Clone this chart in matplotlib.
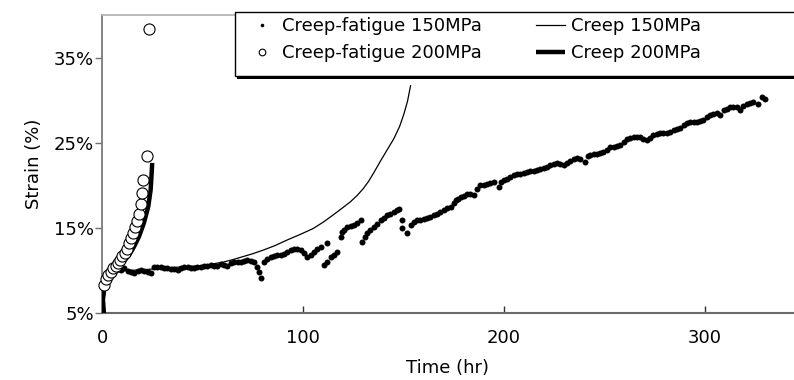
import matplotlib
matplotlib.use("Agg")
import matplotlib.pyplot as plt
from matplotlib.patches import Rectangle
from matplotlib.ticker import FixedLocator

plt.rcParams['font.family'] = ['DejaVu Sans']
plt.rcParams['font.size'] = 13

# Creep-fatigue 150MPa (dots)
cf150_t = [9.2, 10.8, 12.5, 14.2, 15.8, 17.5, 19.2, 20.8, 22.5, 24.1, 25.8, 27.4, 29.1, 30.8,
           32.4, 34.1, 35.7, 37.4, 39.0, 40.7, 42.4, 44.0, 45.7, 47.3, 49.0, 50.6, 52.3, 54.0,
           55.6, 57.3, 59.0, 60.6, 62.3, 64.0, 65.6, 67.3, 68.9, 70.5, 72.2, 73.8, 75.5, 77.2,
           78.0, 79.2, 80.5, 82.1, 83.8, 85.5, 87.2, 88.8, 90.4, 92.1, 93.8, 95.4, 97.1, 98.8,
           100.5, 102.1, 103.8, 105.4, 107.0, 108.7, 110.3, 112.0, 113.7, 115.3, 117.0,
           112.0, 118.7, 119.5, 120.3, 122.0, 123.6, 125.3, 127.0, 128.6,
           129.4, 130.6, 131.9, 133.5, 135.2, 136.9, 138.6, 140.2, 141.9, 143.5, 145.2, 146.5,
           147.7, 149.4, 149.4, 151.8, 153.5, 155.1, 156.8, 158.4, 160.1, 161.7, 163.4, 165.1,
           166.8, 168.4, 170.0, 171.7, 173.4, 175.0, 175.9, 177.1, 178.4, 180.0, 181.7, 183.3,
           185.0, 186.6, 188.3, 189.9, 191.6, 193.2, 194.9, 197.4, 198.6, 199.9, 201.6, 203.2,
           204.9, 206.5, 208.2, 209.8, 211.5, 213.2, 214.8, 216.5, 218.1, 219.8, 221.5, 223.1,
           224.8, 226.5, 228.1, 229.8, 231.5, 233.1, 234.8, 236.4, 238.0, 240.5, 241.8, 243.0,
           244.7, 246.4, 248.0, 249.6, 251.3, 253.0, 254.6, 256.3, 258.0, 259.6, 261.3, 263.0,
           264.6, 266.2, 267.9, 269.5, 271.2, 272.8, 274.5, 276.2, 277.9, 279.5, 281.2, 282.8,
           284.5, 286.2, 287.8, 289.5, 291.2, 292.8, 294.5, 296.1, 297.8, 299.4, 301.0, 302.7,
           304.3, 306.0, 307.7, 309.4, 311.0, 312.7, 314.3, 316.0, 317.7, 319.3, 321.0, 322.7,
           324.3, 326.8, 328.5, 330.1]
cf150_s = [10.05, 10.3, 10.0, 9.9, 9.75, 9.95, 10.1, 10.0, 9.85, 9.7, 10.45, 10.4, 10.45, 10.35,
           10.3, 10.2, 10.25, 10.1, 10.3, 10.45, 10.4, 10.3, 10.3, 10.4, 10.45, 10.5, 10.55, 10.65,
           10.55, 10.6, 10.75, 10.65, 10.55, 10.9, 11.05, 11.0, 11.05, 11.15, 11.25, 11.15, 11.05, 10.46,
           9.9, 9.1, 11.05, 11.4, 11.6, 11.7, 11.85, 11.9, 12.0, 12.2, 12.4, 12.5, 12.6, 12.4,
           12.1, 11.6, 11.9, 12.2, 12.5, 12.8, 10.66, 11.05, 11.6, 11.9, 12.2,
           13.2, 13.9, 14.5, 14.8, 15.1, 15.3, 15.4, 15.6, 15.9,
           13.4, 14.0, 14.4, 14.8, 15.15, 15.5, 15.9, 16.2, 16.5, 16.7, 16.9, 17.1,
           17.2, 15.9, 14.96, 14.4, 15.35, 15.7, 15.9, 16.0, 16.1, 16.2, 16.3, 16.5,
           16.7, 16.9, 17.1, 17.3, 17.5, 17.9, 18.3, 18.4, 18.6, 18.8, 19.0, 19.0,
           18.9, 19.6, 20.0, 20.1, 20.2, 20.3, 20.4, 19.85, 20.4, 20.6, 20.8, 21.0,
           21.2, 21.3, 21.4, 21.5, 21.6, 21.7, 21.7, 21.8, 21.95, 22.05, 22.2, 22.35,
           22.5, 22.6, 22.5, 22.4, 22.6, 22.85, 23.05, 23.2, 23.1, 22.8, 23.4, 23.55,
           23.65, 23.75, 23.85, 23.95, 24.2, 24.5, 24.55, 24.6, 24.7, 25.1, 25.5, 25.6,
           25.7, 25.7, 25.7, 25.5, 25.3, 25.6, 25.9, 26.0, 26.1, 26.1, 26.1, 26.3,
           26.5, 26.6, 26.8, 27.1, 27.3, 27.5, 27.5, 27.5, 27.6, 27.7, 28.0, 28.25,
           28.35, 28.45, 28.25, 28.8, 29.0, 29.2, 29.2, 29.2, 28.8, 29.3, 29.6, 29.7,
           29.8, 29.6, 30.4, 30.2]

# Creep-fatigue 200MPa (open circles)
cf200_t = [0.75, 1.9, 2.9, 4.1, 5.2, 6.6, 7.7, 8.7, 9.9, 11.0, 12.0, 13.2, 14.2, 15.2,
           16.2, 17.3, 18.2, 19.3, 19.8, 20.4, 22.2, 23.3]
cf200_s = [8.3, 9.0, 9.5, 9.9, 10.3, 10.55, 10.9, 11.3, 11.7, 12.1, 12.6, 13.2, 13.8, 14.45,
           15.1, 15.8, 16.6, 17.8, 19.1, 20.6, 23.5, 38.3]

# Creep 150MPa (thin line)
c150_t = [0.5, 2.0, 5.0, 10.0, 20.0, 30.0, 40.0, 50.0, 60.0, 65.0, 70.0, 75.0, 80.5, 86.0,
          92.0, 98.0, 105.0, 110.0, 115.0, 119.5, 123.6, 127.0, 130.0, 132.5, 135.2, 138.6,
          141.9, 145.2, 148.0, 150.2, 152.0, 153.5]
c150_s = [6.0, 8.5, 9.6, 10.0, 10.1, 10.3, 10.45, 10.6, 11.0, 11.3, 11.65, 12.0, 12.45, 12.95,
          13.6, 14.2, 14.95, 15.7, 16.55, 17.35, 18.1, 18.85, 19.65, 20.45, 21.5, 22.9,
          24.2, 25.5, 26.9, 28.4, 29.9, 31.7]

# Creep 200MPa (thick line)
c200_t = [0.75, 0.25, 0.75, 1.6, 3.2, 6.6, 9.9, 13.2, 15.7, 18.2, 20.6, 22.8, 24.0, 24.5, 24.8]
c200_s = [5.0, 6.6, 7.9, 8.9, 9.7, 10.3, 10.9, 11.8, 12.8, 14.0, 15.55, 17.5, 19.45, 21.4, 22.65]

yticks = [5, 15, 25, 35]
xticks = [0, 100, 200, 300]

fig = plt.figure(figsize=(7.94, 3.8), dpi=100)
ax = fig.add_axes([0.129, 0.1755, 0.8697, 0.785])

ax.plot(cf150_t, cf150_s, 'o', color='black', ms=4.3, mew=0, label='Creep-fatigue 150MPa', zorder=3)
ax.plot(c150_t, c150_s, '-', color='black', lw=0.9, label='Creep 150MPa', zorder=2)
ax.plot(cf200_t, cf200_s, 'o', mfc='white', mec='black', ms=8, mew=0.8,
        label='Creep-fatigue 200MPa', zorder=4, clip_on=False)
ax.plot(c200_t, c200_s, '-', color='black', lw=3.2, label='Creep 200MPa', zorder=3,
        solid_capstyle='butt')

ax.set_xlim(0, 344)
ax.set_ylim(5, 40)
ax.xaxis.set_major_locator(FixedLocator(xticks))
ax.yaxis.set_major_locator(FixedLocator(yticks))
ax.set_yticklabels([f"{v}%" for v in yticks])
ax.set_xticklabels([str(v) for v in xticks])
ax.tick_params(axis='y', direction='out', length=5, width=1, color='#707070', pad=1)
ax.tick_params(axis='x', direction='in', length=5, width=1, color='#303030', pad=11)

ax.spines['right'].set_visible(False)
ax.spines['left'].set_color('#7a7a7a')
ax.spines['bottom'].set_color('#6a6a6a')
ax.spines['top'].set_color('#b5b5b5')
ax.spines['left'].set_linewidth(1.3)
ax.spines['bottom'].set_linewidth(1.5)
ax.spines['top'].set_linewidth(1.3)

ax.set_ylabel('Strain (%)', labelpad=8)
ax.set_xlabel('Time (hr)', labelpad=9)

# legend frame with solid shadow
W, H = 794, 380
fig.patches.append(Rectangle((237 / W, 1 - 79 / H), 570 / W, 63 / H, transform=fig.transFigure,
                             facecolor='black', edgecolor='none', zorder=5))
fig.patches.append(Rectangle((235 / W, 1 - 76 / H), 570 / W, 64 / H, transform=fig.transFigure,
                             facecolor='white', edgecolor='black', lw=1.0, zorder=6))

h, l = ax.get_legend_handles_labels()
order = [0, 2, 1, 3]
leg = fig.legend([h[i] for i in order], [l[i] for i in order], ncol=2, frameon=False,
                 loc='upper left', bbox_to_anchor=(248 / W, 1 - 17 / H), borderpad=0,
                 borderaxespad=0, handlelength=1.6, handletextpad=0.3, columnspacing=3.0,
                 labelspacing=0.5, markerscale=0.6)
leg.set_zorder(7)

fig.savefig('out.png', dpi=100)
